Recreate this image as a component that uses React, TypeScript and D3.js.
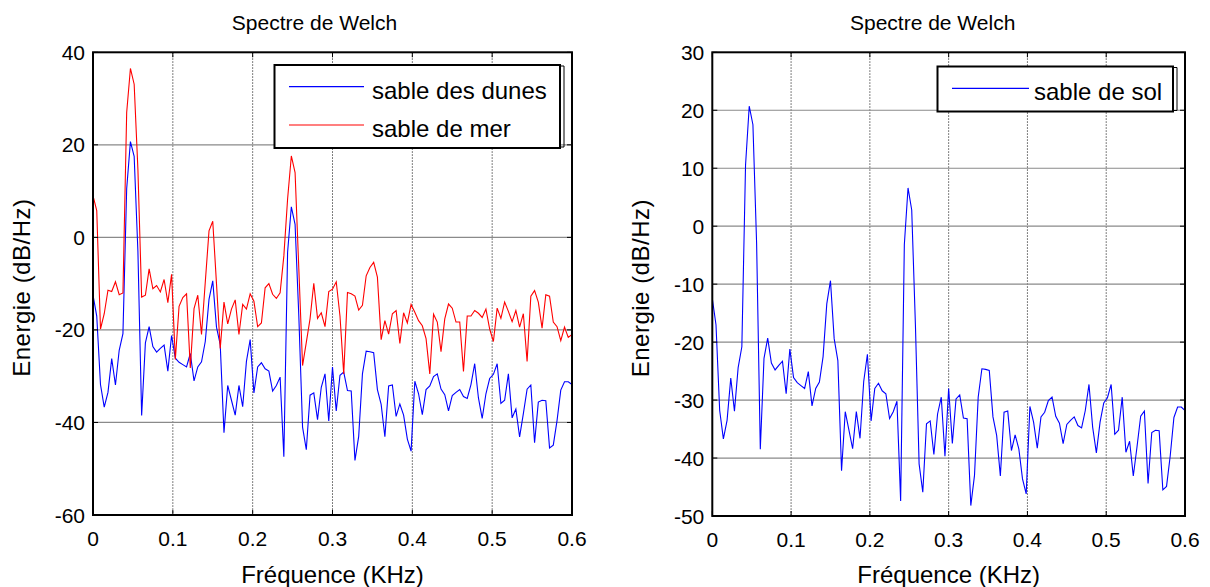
import React from "react";
import * as d3 from "d3";

// Welch power spectral density estimates (dB/Hz), 129 bins from 0 to 0.6 kHz
const binStep = 0.6 / 128;

const sableDesDunes = [
  -12.5, -17, -31.8, -36.7, -33.5, -26.2, -31.9, -24.4, -20.8, 10.5,
  20.7, 17.5, -3, -38.5, -22.8, -19.3, -23.6, -24.8, -24, -23.3,
  -28.9, -21.2, -26.1, -27, -27.5, -28, -25.1, -31, -28, -26.9,
  -22.5, -13.4, -9.4, -19.4, -23.2, -42.2, -32, -35.2, -38.4, -32,
  -36.6, -26.8, -22.1, -33.6, -28, -27.1, -28.4, -28.9, -33.2, -32,
  -30.2, -47.4, -3.2, 6.6, 2.8, -17, -41, -45.9, -34.1, -33.6,
  -39.4, -32.4, -29.5, -39.7, -28, -37.5, -29.8, -29.1, -33.1, -33.2,
  -48.2, -43, -29.5, -24.6, -24.7, -24.9, -32.9, -36.1, -43.1, -32.1,
  -31.9, -38.7, -36, -38.4, -43.6, -46.2, -31.1, -33.8, -38.3, -32.9,
  -32.1, -30.1, -29.5, -32.8, -34, -37.5, -34.2, -33.5, -32.9, -34.4,
  -34.8, -31.8, -27.3, -34.7, -39.1, -33.8, -30.5, -29.6, -27.3, -35.9,
  -35.2, -29.5, -39, -37.1, -43.1, -38.1, -32.8, -31.9, -44.4, -35.6,
  -35.2, -35.3, -45.5, -44.9, -39.6, -33, -31.2, -31.2, -31.8,
];

const sableDeMer = [
  9, 5.8, -19.8, -16.5, -11.4, -11.7, -9.6, -12.4, -12, 27,
  36.5, 33.1, 14.7, -12.9, -12.5, -6.8, -11.1, -10.4, -11.8, -9.1,
  -14.1, -8, -26.4, -14.9, -13, -12.2, -28.2, -15.4, -12.5, -21,
  -9.7, 1.4, 3.5, -10, -24, -14, -18.7, -15.5, -13.5, -21,
  -14.5, -15.5, -12.2, -13.8, -19.3, -18.5, -10.9, -10, -12.3, -13.2,
  -12, -4, 8.3, 17.6, 14, -6.8, -27.7, -22.7, -17.6, -9.9,
  -17.5, -16.3, -19.3, -11.7, -11.2, -9.6, -17, -29.5, -11.9, -12.2,
  -12.7, -15.7, -14.7, -8.3, -6.5, -5.4, -8.6, -22.1, -18, -20.9,
  -16.5, -15.8, -22.9, -16.3, -18.5, -14.5, -16.2, -18, -19.1, -21.9,
  -29.5, -16.6, -18.3, -24.7, -17.6, -14.4, -15.3, -18.3, -18.3, -29,
  -17, -17, -15.8, -16.4, -17.3, -15.5, -19.8, -22.5, -15.3, -17.5,
  -14, -16, -18.2, -15.8, -19.4, -16.5, -26.8, -12.7, -11.5, -14,
  -19.6, -12.4, -12.7, -18.3, -19.3, -22.3, -19.4, -21.6, -21,
];

// the soil sample gives the same spectrum as the dune sand
const sableDeSol = sableDesDunes.slice();

const xTicks = [0, 0.1, 0.2, 0.3, 0.4, 0.5, 0.6];
const xTickLabels = ["0", "0.1", "0.2", "0.3", "0.4", "0.5", "0.6"];
const leftYTicks = [-60, -40, -20, 0, 20, 40];
const rightYTicks = [-50, -40, -30, -20, -10, 0, 10, 20, 30];

const FONT = "'Liberation Sans', Arial, Helvetica, sans-serif";

type Series = { name: string; values: number[]; color: string };

type PanelProps = {
  id: string;
  left: number;
  right: number;
  top: number;
  bottom: number;
  yDomain: [number, number];
  yTicks: number[];
  series: Series[];
  titleShift: number;
  ylabelX: number;
  legend: { left: number; right: number; top: number; bottom: number; lineX0: number; lineX1: number; textX: number; rowY: number[] };
};

function Panel(p: PanelProps) {
  const x = d3.scaleLinear().domain([0, 0.6]).range([p.left, p.right]);
  const y = d3.scaleLinear().domain(p.yDomain).range([p.bottom, p.top]);
  const line = d3
    .line<number>()
    .x((_, i) => x(i * binStep))
    .y((v) => y(v));
  const tick = 5;
  const cx = (p.left + p.right) / 2;
  const cy = (p.top + p.bottom) / 2;
  const lg = p.legend;
  return (
    <g>
      <defs>
        <clipPath id={p.id}>
          <rect x={p.left} y={p.top} width={p.right - p.left} height={p.bottom - p.top} />
        </clipPath>
      </defs>
      <rect x={p.left} y={p.top} width={p.right - p.left} height={p.bottom - p.top} fill="#fff" />
      {/* grid */}
      {xTicks.slice(1, -1).map((t) => (
        <line key={"gx" + t} x1={x(t)} x2={x(t)} y1={p.top} y2={p.bottom} stroke="#555" strokeWidth={1} strokeDasharray="1.5 1.5" />
      ))}
      {p.yTicks.slice(1, -1).map((t) => (
        <line key={"gy" + t} x1={p.left} x2={p.right} y1={y(t)} y2={y(t)} stroke="#8a8a8a" strokeWidth={1.2} />
      ))}
      {/* spectra */}
      <g clipPath={`url(#${p.id})`}>
        {p.series.map((s) => (
          <path key={s.name} d={line(s.values) || ""} fill="none" stroke={s.color} strokeWidth={1.1} />
        ))}
      </g>
      {/* ticks on all four sides */}
      {xTicks.map((t) => (
        <g key={"tx" + t}>
          <line x1={x(t)} x2={x(t)} y1={p.bottom} y2={p.bottom - tick} stroke="#000" />
          <line x1={x(t)} x2={x(t)} y1={p.top} y2={p.top + tick} stroke="#000" />
        </g>
      ))}
      {p.yTicks.map((t) => (
        <g key={"ty" + t}>
          <line x1={p.left} x2={p.left + tick} y1={y(t)} y2={y(t)} stroke="#000" />
          <line x1={p.right} x2={p.right - tick} y1={y(t)} y2={y(t)} stroke="#000" />
        </g>
      ))}
      <rect x={p.left} y={p.top} width={p.right - p.left} height={p.bottom - p.top} fill="none" stroke="#000" strokeWidth={2} />
      {/* tick labels */}
      {xTicks.map((t, i) => (
        <text key={"lx" + t} x={x(t)} y={p.bottom + 31} textAnchor="middle" fontSize={21} fontFamily={FONT}>
          {xTickLabels[i]}
        </text>
      ))}
      {p.yTicks.map((t) => (
        <text key={"ly" + t} x={p.left - 8} y={y(t) + 7.5} textAnchor="end" fontSize={21} fontFamily={FONT}>
          {String(t)}
        </text>
      ))}
      {/* titles */}
      <text x={cx + p.titleShift} y={30} textAnchor="middle" fontSize={21} fontFamily={FONT}>
        Spectre de Welch
      </text>
      <text x={cx} y={583} textAnchor="middle" fontSize={24} fontFamily={FONT}>
        Fréquence (KHz)
      </text>
      <text
        transform={`translate(${p.ylabelX},${cy + 4}) rotate(-90)`}
        textAnchor="middle"
        fontSize={24}
        letterSpacing={0.5}
        fontFamily={FONT}
      >
        Energie (dB/Hz)
      </text>
      {/* legend */}
      <rect x={lg.left} y={lg.top} width={lg.right - lg.left} height={lg.bottom - lg.top} fill="#fff" stroke="#000" strokeWidth={2} />
      <path d={`M${lg.right},${lg.top + 1}H${lg.right + 4}V${lg.bottom - 1}H${lg.right}`} fill="none" stroke="#000" strokeWidth={1} />
      {p.series.map((s, i) => (
        <g key={"lg" + s.name}>
          <line x1={lg.lineX0} x2={lg.lineX1} y1={lg.rowY[i]} y2={lg.rowY[i]} stroke={s.color} strokeWidth={1.2} />
          <text x={lg.textX} y={lg.rowY[i] + 12} fontSize={24} fontFamily={FONT}>
            {s.name}
          </text>
        </g>
      ))}
    </g>
  );
}

export default function App() {
  return (
    <div style={{ position: "absolute", left: 0, top: 0 }}>
      <svg width={1210} height={587} style={{ display: "block", background: "#fff" }}>
        <Panel
          id="clipLeft"
          left={93}
          right={572}
          top={52.3}
          bottom={515}
          yDomain={[-60, 40]}
          yTicks={leftYTicks}
          titleShift={-18}
          ylabelX={30}
          series={[
            { name: "sable des dunes", values: sableDesDunes, color: "#0000ff" },
            { name: "sable de mer", values: sableDeMer, color: "#ff0000" },
          ]}
          legend={{ left: 274.5, right: 560, top: 65, bottom: 148, lineX0: 289, lineX1: 364, textX: 372, rowY: [86.7, 125] }}
        />
        <Panel
          id="clipRight"
          left={712.3}
          right={1185}
          top={52.3}
          bottom={516}
          yDomain={[-50, 30]}
          yTicks={rightYTicks}
          titleShift={-16}
          ylabelX={649}
          series={[{ name: "sable de sol", values: sableDeSol, color: "#0000ff" }]}
          legend={{ left: 937.5, right: 1173, top: 66.5, bottom: 111.5, lineX0: 952, lineX1: 1029, textX: 1034, rowY: [88.3] }}
        />
      </svg>
    </div>
  );
}
